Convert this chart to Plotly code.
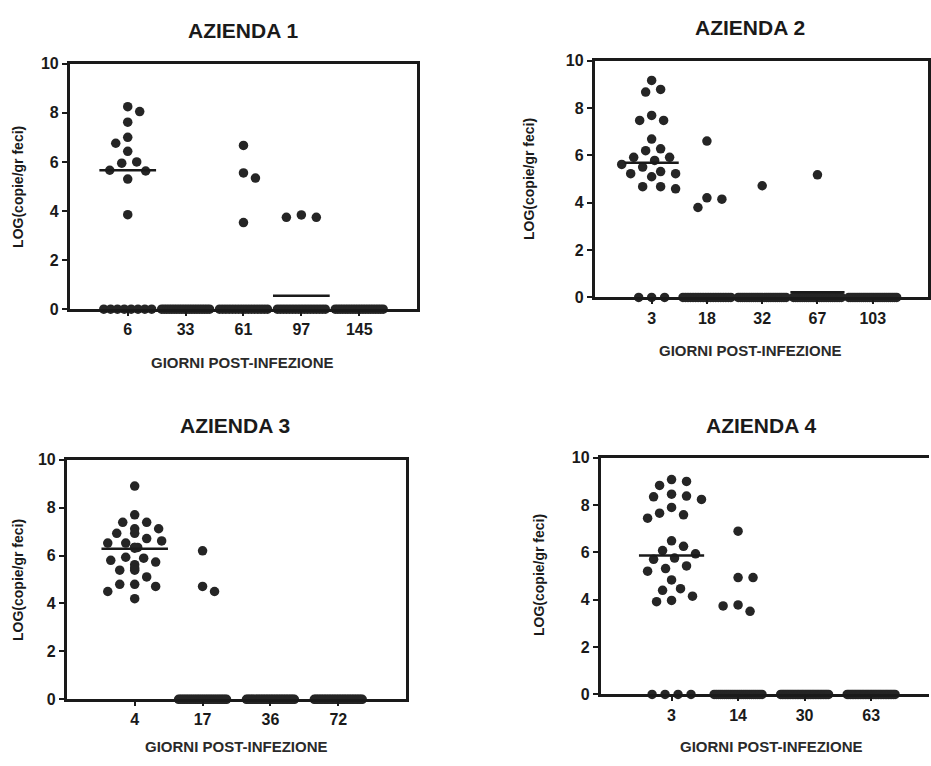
import plotly.graph_objects as go

W, H = 931, 766

# ---------------- data ----------------
p1_title = "AZIENDA 1"
p1_cats = ["6", "33", "61", "97", "145"]
p1_pos = [[8.25, 8.05, 7.62, 7.0, 6.76, 6.43, 6.0, 5.95, 5.66, 5.63, 5.3, 3.85],
          [],
          [6.67, 5.55, 5.34, 3.53],
          [3.74, 3.74, 3.84],
          []]
p1_zero = [8, 20, 16, 17, 20]
p1_line = [5.66, None, None, 0.55, None]

p2_title = "AZIENDA 2"
p2_cats = ["3", "18", "32", "67", "103"]
p2_pos = [[9.17, 8.79, 8.68, 7.69, 7.48, 7.48, 6.69, 6.28, 6.2, 5.92, 5.92, 5.79,
           5.62, 5.51, 5.32, 5.23, 5.23, 5.1, 4.68, 4.68, 4.59],
          [6.61, 4.21, 4.15, 3.8],
          [4.72],
          [5.18],
          []]
p2_zero = [3, 20, 23, 23, 24]
p2_line = [5.69, None, None, 0.22, None]

p3_title = "AZIENDA 3"
p3_cats = ["4", "17", "36", "72"]
p3_pos = [[8.9, 7.7, 7.39, 7.39, 7.12, 7.12, 6.93, 6.93, 6.71, 6.61, 6.52, 6.52,
           6.34, 6.34, 6.31, 6.34, 5.93, 5.89, 5.8, 5.73, 5.62, 5.48, 5.39, 5.39,
           5.11, 4.8, 4.8, 4.71, 4.5, 4.2],
          [6.2, 4.71, 4.5],
          [],
          []]
p3_zero = [0, 27, 30, 30]
p3_line = [6.28, None, None, None]

p4_title = "AZIENDA 4"
p4_cats = ["3", "14", "30", "63"]
p4_pos = [[9.08, 9.0, 8.83, 8.46, 8.38, 8.35, 8.24, 7.9, 7.66, 7.59, 7.45, 6.49,
           6.26, 6.08, 5.94, 5.76, 5.71, 5.43, 5.32, 5.21, 4.84, 4.47, 4.4, 4.15,
           3.97, 3.92],
          [6.9, 4.94, 4.94, 3.78, 3.74, 3.51],
          [],
          []]
p4_zero = [4, 24, 30, 30]
p4_line = [5.87, None, None, None]

y_ticks = [0, 2, 4, 6, 8, 10]
y_title = "LOG(copie/gr feci)"
x_title = "GIORNI POST-INFEZIONE"

# ---------------- layout (pixel boxes) ----------------
panels = [
    dict(title=p1_title, cats=p1_cats, pos=p1_pos, zero=p1_zero, line=p1_line,
         box=(70, 418, 57, 308), xr=(-1, 5), mirror_y=True,
         tpos=(244, 23), xt=(243, 363), yt=(18, 183)),
    dict(title=p2_title, cats=p2_cats, pos=p2_pos, zero=p2_zero, line=p2_line,
         box=(596, 930, 54, 296), xr=(-1.03, 5.0), mirror_y=True,
         tpos=(752, 20), xt=(752, 350), yt=(530, 175)),
    dict(title=p3_title, cats=p3_cats, pos=p3_pos, zero=p3_zero, line=p3_line,
         box=(67, 407, 462, 707), xr=(-1, 4), mirror_y=True,
         tpos=(236, 427), xt=(237, 755), yt=(18, 585)),
    dict(title=p4_title, cats=p4_cats, pos=p4_pos, zero=p4_zero, line=p4_line,
         box=(602, 931, 460, 702), xr=(-1.065, 3.87), mirror_y=False,
         tpos=(763, 427), xt=(773, 755), yt=(540, 580)),
]

INK = "#1a1a1a"
DOT = "#252525"
FONT = "Liberation Sans, Arial, sans-serif"
DIAM = 9.5


def swarm(vals, ky, gap=12.5, step=3.0, maxhalf=32.0):
    placed = []
    res = [0.0] * len(vals)
    order = sorted(range(len(vals)), key=lambda i: -vals[i])
    left = right = 0
    for i in order:
        ypx = vals[i] * ky
        found = None
        k = 0
        while found is None and k * step <= maxhalf:
            if k == 0:
                cands = [0.0]
            else:
                cands = [k * step, -k * step] if left >= right else [-k * step, k * step]
            for c in cands:
                if all((c - px) ** 2 + (ypx - py) ** 2 >= gap ** 2 for px, py in placed):
                    found = c
                    break
            k += 1
        if found is None:
            found = 0.0
        if found < 0:
            left += 1
        elif found > 0:
            right += 1
        placed.append((found, ypx))
        res[i] = found
    return res


fig = go.Figure()
annotations = []

for n, p in enumerate(panels, start=1):
    x0, x1, y0, y1 = p["box"]
    xa = "xaxis" if n == 1 else f"xaxis{n}"
    ya = "yaxis" if n == 1 else f"yaxis{n}"
    xref = "x" if n == 1 else f"x{n}"
    yref = "y" if n == 1 else f"y{n}"
    kx = (x1 - x0) / (p["xr"][1] - p["xr"][0])
    ky = (y1 - y0) / 10.0

    xs, ys = [], []
    for gi, vals in enumerate(p["pos"]):
        offs = swarm(vals, ky)
        for v, o in zip(vals, offs):
            xs.append(gi + o / kx)
            ys.append(v)
        nz = p["zero"][gi]
        if nz > 0:
            sp = 13.0 if nz == 1 else min(13.0, 48.0 / (nz - 1))
            for j in range(nz):
                xs.append(gi + (j - (nz - 1) / 2) * sp / kx)
                ys.append(0)
    fig.add_trace(go.Scatter(x=xs, y=ys, mode="markers", xaxis=xref, yaxis=yref,
                             marker=dict(size=DIAM, color=DOT, line=dict(width=0)),
                             cliponaxis=False, showlegend=False, hoverinfo="skip"))
    for gi, lv in enumerate(p["line"]):
        if lv is None:
            continue
        fig.add_trace(go.Scatter(x=[gi - 0.49, gi + 0.49], y=[lv, lv], mode="lines",
                                 xaxis=xref, yaxis=yref, cliponaxis=False,
                                 line=dict(color=INK, width=2.5),
                                 showlegend=False, hoverinfo="skip"))

    fig.layout[xa] = dict(domain=[x0 / W, x1 / W], range=list(p["xr"]), anchor=yref,
                          tickmode="array", tickvals=list(range(len(p["cats"]))),
                          ticktext=p["cats"], showline=True, linewidth=2.8,
                          linecolor=INK, mirror=True, ticks="outside", ticklen=4,
                          tickwidth=2, tickcolor=INK, showgrid=False, zeroline=False,
                          tickfont=dict(family=FONT, size=16, color=INK, weight="bold"),
                          fixedrange=True)
    fig.layout[ya] = dict(domain=[1 - y1 / H, 1 - y0 / H], range=[0, 10], anchor=xref,
                          tickmode="array", tickvals=y_ticks,
                          showline=True, linewidth=2.8, linecolor=INK,
                          mirror=p["mirror_y"], ticks="outside", ticklen=5,
                          tickwidth=2, tickcolor=INK, showgrid=False, zeroline=False,
                          tickfont=dict(family=FONT, size=16, color=INK, weight="bold"),
                          fixedrange=True)

    tx, ty = p["tpos"]
    annotations.append(dict(text=p["title"], x=tx / W, y=1 - ty / H, xref="paper",
                            yref="paper", showarrow=False, xanchor="center",
                            yanchor="middle",
                            font=dict(family=FONT, size=21, color=INK, weight="bold")))
    gx, gy = p["xt"]
    annotations.append(dict(text=x_title, x=gx / W, y=1 - gy / H, xref="paper",
                            yref="paper", showarrow=False, xanchor="center",
                            yanchor="middle",
                            font=dict(family=FONT, size=15, color="#2a2a2a", weight="bold")))
    lx, ly = p["yt"]
    annotations.append(dict(text=y_title, x=lx / W, y=1 - ly / H, xref="paper",
                            yref="paper", showarrow=False, xanchor="center",
                            yanchor="middle", textangle=-90,
                            font=dict(family=FONT, size=14, color=INK, weight="bold")))

fig.update_layout(width=W, height=H, margin=dict(l=0, r=0, t=0, b=0),
                  paper_bgcolor="white", plot_bgcolor="white",
                  annotations=annotations, showlegend=False)

fig.write_html("out.html", config={"displayModeBar": False},
               post_script="document.body.style.margin='0';document.body.style.overflow='hidden';")
